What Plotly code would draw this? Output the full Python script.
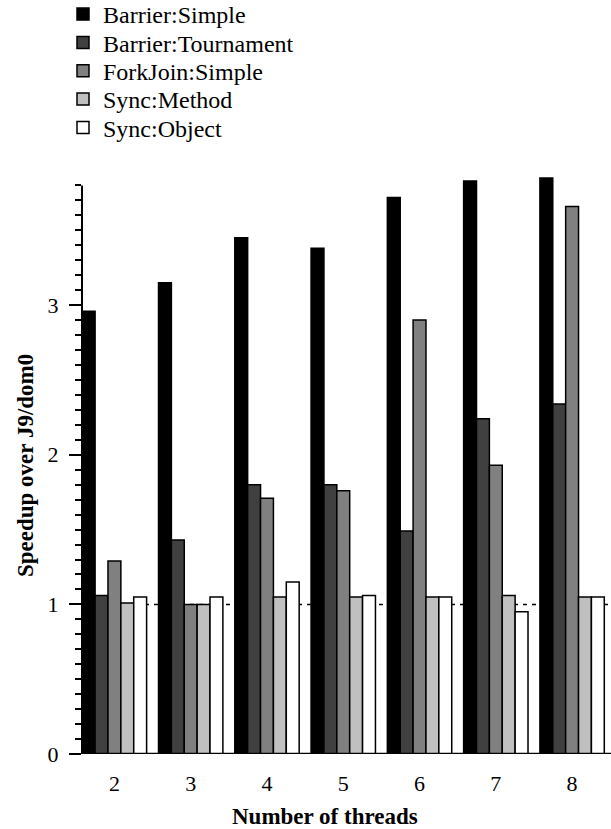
import plotly.graph_objects as go

threads = ["2", "3", "4", "5", "6", "7", "8"]
series_names = ["Barrier:Simple", "Barrier:Tournament", "ForkJoin:Simple", "Sync:Method", "Sync:Object"]
barrier_simple = [2.96, 3.15, 3.45, 3.38, 3.72, 3.83, 3.85]
barrier_tournament = [1.06, 1.43, 1.80, 1.80, 1.49, 2.24, 2.34]
forkjoin_simple = [1.29, 1.00, 1.71, 1.76, 2.90, 1.93, 3.66]
sync_method = [1.01, 1.00, 1.05, 1.05, 1.05, 1.06, 1.05]
sync_object = [1.05, 1.05, 1.15, 1.06, 1.05, 0.95, 1.05]
y_ticks = [0, 1, 2, 3]

series_values = [barrier_simple, barrier_tournament, forkjoin_simple, sync_method, sync_object]
colors = ["#000000", "#404040", "#808080", "#c0c0c0", "#ffffff"]

FONT = "Liberation Serif, Times New Roman, serif"
W, H = 611, 829
ML, MR, MT, MB = 82, 0, 175, 75
PW, PH = W - ML - MR, H - MT - MB

def px_x(p):
    return (p - ML) / PW

def px_y(p):
    return (H - MB - p) / PH

fig = go.Figure()
legend_ids = ["legend", "legend2", "legend3", "legend4", "legend5"]
for name, vals, col, lid in zip(series_names, series_values, colors, legend_ids):
    fig.add_trace(go.Bar(
        x=threads, y=vals, name=name, legend=lid,
        marker=dict(color=col, line=dict(color="#000000", width=1.5)),
    ))

# reference line at 1 (behind bars)
fig.add_shape(type="line", xref="paper", yref="y", x0=0, x1=1, y0=1, y1=1,
              line=dict(color="#000000", width=1.5, dash="4px,5px"), layer="below")
# y axis line (stops at 3.8)
fig.add_shape(type="line", xref="paper", yref="y", x0=0, x1=0, y0=0, y1=3.8,
              line=dict(color="#000000", width=2), layer="above")
# x axis line
fig.add_shape(type="line", xref="paper", yref="y", x0=0, x1=1, y0=0, y1=0,
              line=dict(color="#000000", width=2.5), layer="above")

fig.add_annotation(text="<b>Number of threads</b>", xref="paper", yref="paper",
                   x=px_x(325), y=px_y(816), xanchor="center", yanchor="middle",
                   showarrow=False, font=dict(family=FONT, size=23, color="#000000"))
fig.add_annotation(text="<b>Speedup over J9/dom0</b>", xref="paper", yref="paper",
                   x=px_x(25), y=px_y(466), xanchor="center", yanchor="middle", textangle=-90,
                   showarrow=False, font=dict(family=FONT, size=23, color="#000000"))

row_centers = [15, 43.3, 71.7, 100, 128.3]
legend_layouts = {}
for lid, rc in zip(legend_ids, row_centers):
    legend_layouts[lid] = dict(
        x=px_x(63), y=px_y(rc - 0.5), xanchor="left", yanchor="middle",
        font=dict(family=FONT, size=24, color="#000000"),
        bgcolor="rgba(0,0,0,0)", borderwidth=0,
    )

fig.update_layout(
    width=W, height=H,
    margin=dict(l=ML, r=MR, t=MT, b=MB, autoexpand=False),
    paper_bgcolor="#ffffff", plot_bgcolor="#ffffff",
    barmode="group", bargap=0.156, bargroupgap=0,
    font=dict(family=FONT, size=22, color="#000000"),
    showlegend=True,
    xaxis=dict(type="category", range=[-0.425, 6.51], showgrid=False, zeroline=False,
               showline=False, ticks="", ticklabelstandoff=14,
               tickfont=dict(family=FONT, size=22, color="#000000")),
    yaxis=dict(range=[0, 3.87], tickvals=y_ticks, showgrid=False, zeroline=False,
               showline=False, ticks="outside", ticklen=12, tickwidth=1.5,
               tickcolor="#000000", ticklabelstandoff=6,
               tickfont=dict(family=FONT, size=22, color="#000000"),
               minor=dict(dtick=0.1, tick0=0, ticks="outside", ticklen=6, tickwidth=1.5,
                          tickcolor="#000000", showgrid=False)),
    **legend_layouts,
)

fig.write_html("out.html")
